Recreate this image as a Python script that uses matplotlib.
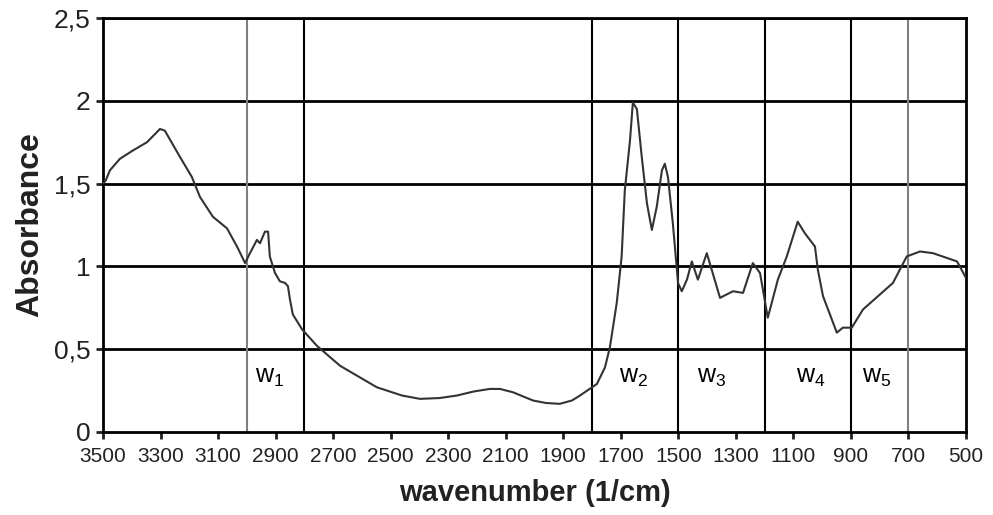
import matplotlib
matplotlib.use("Agg")
import matplotlib.pyplot as plt
from matplotlib.ticker import FixedLocator, FuncFormatter

plt.rcParams['font.family'] = ['Liberation Sans', 'DejaVu Sans']

# spectrum
wavenumber = [3500, 3490, 3476, 3441, 3396, 3347, 3313, 3302, 3285, 3232, 3191, 3163, 3118, 3069,
              3034, 3006, 2989, 2965, 2954, 2937, 2926, 2920, 2902, 2885, 2867, 2857, 2850,
              2840, 2808, 2756, 2676, 2548, 2460, 2398, 2330, 2270, 2210, 2155, 2120, 2075,
              2005, 1960, 1912, 1870, 1842, 1783, 1755, 1738, 1714, 1697, 1686, 1668, 1658,
              1644, 1627, 1609, 1592, 1575, 1557, 1547, 1536, 1519, 1501, 1488, 1470, 1453,
              1432, 1401, 1355, 1310, 1275, 1241, 1216, 1189, 1154, 1123, 1085, 1060, 1025,
              1015, 997, 949, 928, 897, 858, 754, 706, 660, 615, 531, 500]
absorbance = [1.50, 1.52, 1.58, 1.65, 1.70, 1.75, 1.81, 1.83, 1.82, 1.66, 1.54, 1.42, 1.30, 1.23,
              1.12, 1.02, 1.08, 1.16, 1.14, 1.21, 1.21, 1.06, 0.96, 0.91, 0.90, 0.88, 0.80,
              0.71, 0.62, 0.52, 0.40, 0.27, 0.22, 0.20, 0.205, 0.22, 0.245, 0.26, 0.26, 0.24,
              0.19, 0.175, 0.17, 0.19, 0.22, 0.29, 0.39, 0.51, 0.78, 1.06, 1.46, 1.76, 1.99,
              1.95, 1.66, 1.38, 1.22, 1.36, 1.58, 1.62, 1.54, 1.26, 0.90, 0.85, 0.92, 1.03,
              0.92, 1.08, 0.81, 0.85, 0.84, 1.02, 0.96, 0.69, 0.92, 1.06, 1.27, 1.20, 1.12,
              0.98, 0.82, 0.60, 0.63, 0.63, 0.74, 0.90, 1.06, 1.09, 1.08, 1.03, 0.93]

window_edges = [3000, 2800, 1800, 1500, 1200, 900, 700]
edge_colors = ['#808080', 'black', 'black', 'black', 'black', 'black', '#808080']
window_labels = ['1', '2', '3', '4', '5']
label_x = [2920, 1655, 1385, 1040, 810]

x_ticks = list(range(3500, 499, -200))
y_ticks = [0, 0.5, 1, 1.5, 2, 2.5]

fig = plt.figure(figsize=(9.93, 5.15), dpi=100)
ax = fig.add_axes([0.1037, 0.1612, 0.8691, 0.8038])

for y in y_ticks[1:]:
    ax.axhline(y, color='black', lw=2, zorder=1)
for x, c in zip(window_edges, edge_colors):
    ax.axvline(x, color=c, lw=1.5, zorder=1)

ax.plot(wavenumber, absorbance, color='#333333', lw=1.5, zorder=3)

for lab, x in zip(window_labels, label_x):
    ax.text(x, 0.33, r'$\mathregular{w_%s}$' % lab, fontsize=18, ha='center', va='center')

ax.set_xlim(3500, 500)
ax.set_ylim(0, 2.5)
ax.xaxis.set_major_locator(FixedLocator(x_ticks))
ax.yaxis.set_major_locator(FixedLocator(y_ticks))
ax.yaxis.set_major_formatter(FuncFormatter(lambda v, p: ('%g' % v).replace('.', ',')))
ax.tick_params(axis='x', direction='out', length=5, width=2, labelsize=15, pad=6, colors='#222222')
ax.tick_params(axis='y', direction='out', length=5, width=2, labelsize=19, pad=4, colors='#222222')
for s in ax.spines.values():
    s.set_linewidth(2)

ax.set_xlabel('wavenumber (1/cm)', fontsize=21, fontweight='bold', labelpad=9, color='#222222')
ax.set_ylabel('Absorbance', fontsize=23, fontweight='bold', labelpad=6, color='#222222')

fig.savefig('out.png', dpi=100)
